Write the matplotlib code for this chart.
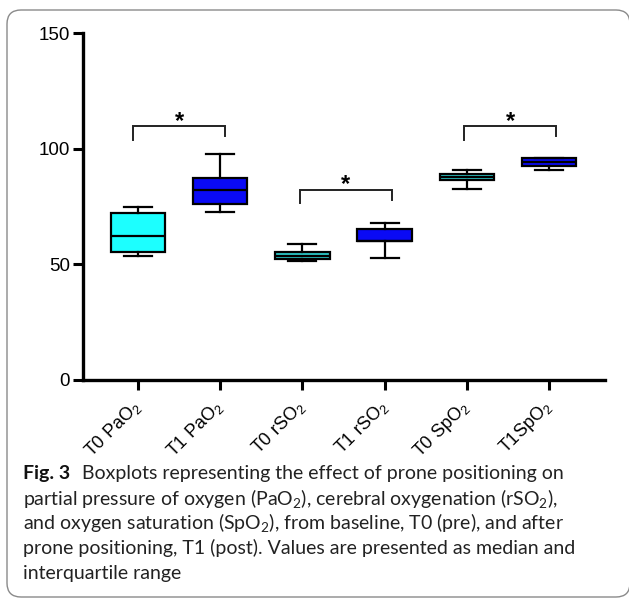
import matplotlib
matplotlib.use('Agg')
from matplotlib import pyplot as plt
from matplotlib.patches import FancyBboxPatch

# values (median + IQR, whiskers)
labels = ['T0 PaO$\\mathregular{_2}$', 'T1 PaO$\\mathregular{_2}$', 'T0 rSO$\\mathregular{_2}$',
          'T1 rSO$\\mathregular{_2}$', 'T0 SpO$\\mathregular{_2}$', 'T1SpO$\\mathregular{_2}$']
whis_lo = [53.5, 72.8, 51.6, 52.8, 82.6, 90.7]
q1 = [55.5, 76.2, 52.2, 60.0, 86.5, 92.6]
med = [62.3, 82.2, 53.5, 60.3, 87.8, 94.1]
q3 = [72.3, 87.4, 55.2, 65.3, 89.1, 95.8]
whis_hi = [74.8, 97.8, 58.8, 67.9, 90.8, 95.8]
colors = ['#1CFFFF', '#0A0AF5', '#2CCACA', '#0A0AF5', '#2CCACA', '#0A0AF5']

# significance brackets: (left, right, top, left leg end, right leg end)
brackets = [(0.94, 2.06, 109.7, 103.9, 105.3),
            (2.97, 4.09, 82.1, 76.5, 77.8),
            (4.97, 6.09, 109.7, 103.9, 105.3)]

caption = [
    'Boxplots representing the effect of prone positioning on',
    'partial pressure of oxygen (PaO$\\mathregular{_2}$), cerebral oxygenation (rSO$\\mathregular{_2}$),',
    'and oxygen saturation (SpO$\\mathregular{_2}$), from baseline, T0 (pre), and after',
    'prone positioning, T1 (post). Values are presented as median and',
    'interquartile range',
]

W, H = 629, 599
fig = plt.figure(figsize=(W / 100, H / 100), dpi=100)
ax = fig.add_axes([83 / W, 1 - 380 / H, (605 - 83) / W, (380 - 33) / H])

stats = []
for i in range(len(labels)):
    stats.append({'whislo': whis_lo[i], 'q1': q1[i], 'med': med[i],
                  'q3': q3[i], 'whishi': whis_hi[i], 'fliers': []})

pos = list(range(1, len(labels) + 1))
bp = ax.bxp(stats, positions=pos, widths=0.66, patch_artist=True, showfliers=False,
            boxprops=dict(linewidth=1.6, edgecolor='black'),
            medianprops=dict(color='black', linewidth=1.6),
            whiskerprops=dict(color='black', linewidth=1.6),
            capprops=dict(color='black', linewidth=1.6),
            capwidths=0.34)
for patch, c in zip(bp['boxes'], colors):
    patch.set_facecolor(c)

for x1, x2, top, l1, l2 in brackets:
    ax.plot([x1, x1, x2, x2], [l1, top, top, l2], color='#222222', lw=1.4,
            solid_joinstyle='miter')
    ax.text((x1 + x2) / 2, top - 0.6, '*', ha='center', va='baseline',
            fontsize=17, fontweight='bold', family='Liberation Sans')

ax.set_xlim(0.331, 6.681)
ax.set_ylim(0, 150)
ax.set_yticks([0, 50, 100, 150])
ax.set_xticks(pos)
ax.set_xticklabels(labels, rotation=45, ha='right', va='center',
                   rotation_mode='anchor', family='Liberation Sans', fontsize=13)
for lab in ax.get_yticklabels():
    lab.set_family('Liberation Sans')
    lab.set_fontsize(13.5)
ax.tick_params(axis='both', width=2.2, length=7.5, direction='out', colors='black')
ax.tick_params(axis='x', pad=10)
ax.tick_params(axis='y', pad=2)
for s in ['top', 'right']:
    ax.spines[s].set_visible(False)
for s in ['left', 'bottom']:
    ax.spines[s].set_linewidth(2.4)

# rounded frame around the figure
frame = FancyBboxPatch((7, 2), 623, 587, boxstyle='round,pad=0,rounding_size=14',
                       transform=None, fill=False, edgecolor='#8a8a8a', lw=1.0)
fig.add_artist(frame)

# caption
cap_font = 'Lato'
cap_size = 14
rend = fig.canvas.get_renderer()
y0 = 473
for i, line in enumerate(caption):
    yy = 1 - (y0 + 25 * i) / H
    x = 23 / W
    if i == 0:
        t = fig.text(x, yy, 'Fig. 3', fontsize=cap_size, fontweight='bold', family=cap_font,
                     va='center', color='#111111')
        bb = t.get_window_extent(renderer=rend)
        x = (bb.x1 + 12) / W
    fig.text(x, yy, line, fontsize=cap_size, family=cap_font, va='center', color='#222222')

fig.savefig('out.png', dpi=100)
